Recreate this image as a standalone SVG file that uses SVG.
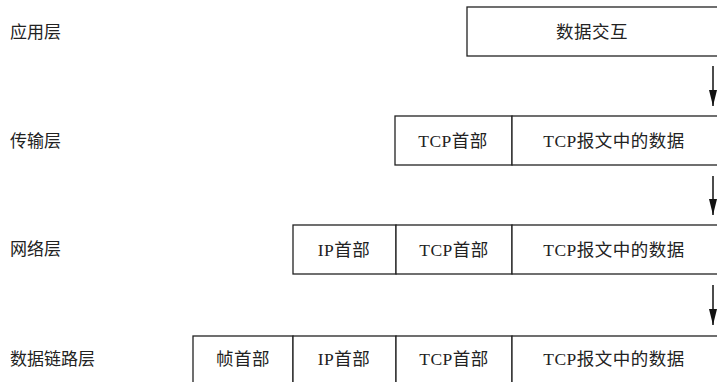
<svg xmlns="http://www.w3.org/2000/svg" width="717" height="382" viewBox="0 0 717 382">
<defs>
<style>
.lbl{font-family:"Liberation Serif","Noto Sans CJK SC",serif;font-size:17px;fill:#222;}
.t{font-family:"Liberation Serif","Noto Sans CJK SC",serif;font-size:17.5px;letter-spacing:0.5px;fill:#222;text-anchor:middle;dominant-baseline:central;}
.box{fill:#fff;stroke:#222;stroke-width:1.3;}
.arr{stroke:#111;stroke-width:1.5;fill:none;}
</style>
<marker id="ah" markerWidth="16" markerHeight="8" refX="16" refY="4" orient="auto" markerUnits="userSpaceOnUse" viewBox="0 0 16 8">
<path d="M0,0 L16,4 L0,8 Z" fill="#111"/>
</marker>
</defs>
<rect width="717" height="382" fill="#fff"/>
<g id="labels">
<text class="lbl" x="10" y="38">应用层</text>
<text class="lbl" x="10" y="147">传输层</text>
<text class="lbl" x="10" y="255">网络层</text>
<text class="lbl" x="10" y="365">数据链路层</text>
</g>
<g id="app">
<rect class="box" x="467" y="7" width="260" height="49"/>
<text class="t" x="592" y="32">数据交互</text>
</g>
<g id="transport">
<rect class="box" x="395" y="116" width="117" height="49"/>
<text class="t" x="453" y="141">TCP首部</text>
<rect class="box" x="512" y="116" width="215" height="49"/>
<text class="t" x="614" y="141">TCP报文中的数据</text>
</g>
<g id="network">
<rect class="box" x="293" y="225" width="103" height="49"/>
<text class="t" x="344" y="250">IP首部</text>
<rect class="box" x="396" y="225" width="116" height="49"/>
<text class="t" x="454" y="250">TCP首部</text>
<rect class="box" x="512" y="225" width="215" height="49"/>
<text class="t" x="614" y="250">TCP报文中的数据</text>
</g>
<g id="datalink">
<rect class="box" x="193" y="336" width="100" height="60"/>
<text class="t" x="243" y="359">帧首部</text>
<rect class="box" x="293" y="336" width="103" height="60"/>
<text class="t" x="344" y="359">IP首部</text>
<rect class="box" x="396" y="336" width="116" height="60"/>
<text class="t" x="454" y="359">TCP首部</text>
<rect class="box" x="512" y="336" width="215" height="60"/>
<text class="t" x="614" y="359">TCP报文中的数据</text>
</g>
<g id="connectors">
<line class="arr" x1="713" y1="66" x2="713" y2="106" marker-end="url(#ah)"/>
<line class="arr" x1="713" y1="176" x2="713" y2="215" marker-end="url(#ah)"/>
<line class="arr" x1="713" y1="285" x2="713" y2="325" marker-end="url(#ah)"/>
</g>
</svg>
